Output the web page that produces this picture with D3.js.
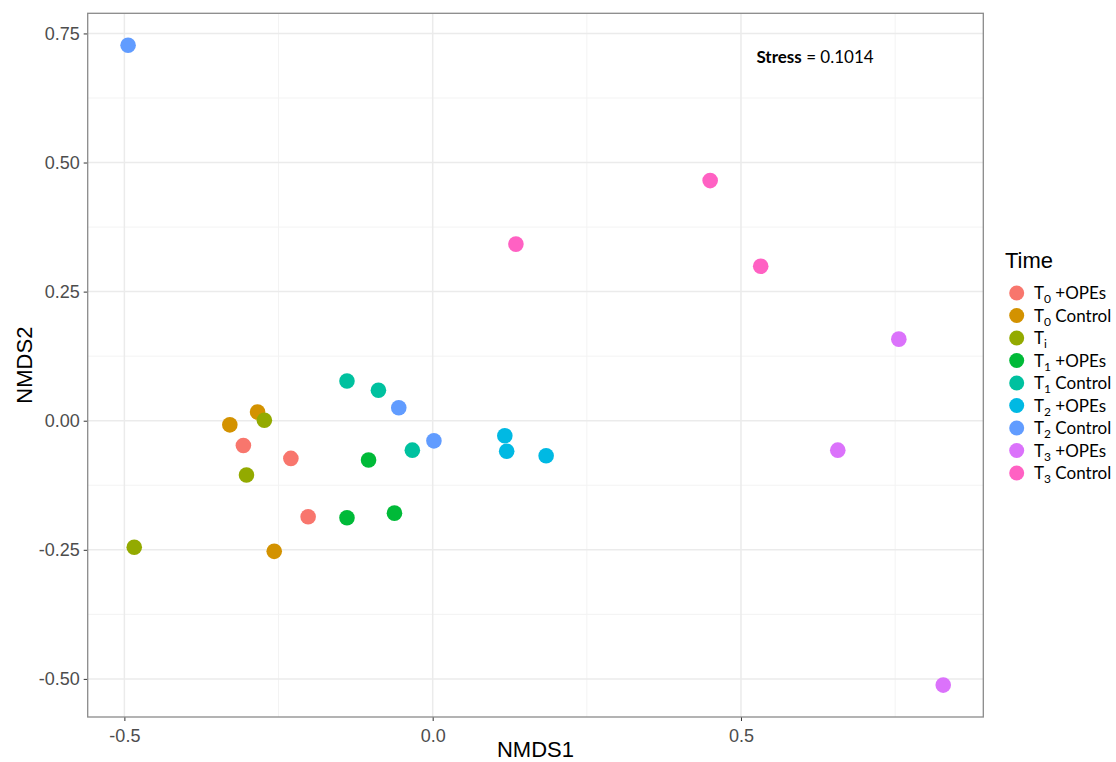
<!DOCTYPE html>
<html>
<head>
<meta charset="utf-8">
<script src="https://cdn.jsdelivr.net/npm/d3@7"></script>
<style>
  body { margin: 0; background: #fff; }
  .tick text { font-family: "Liberation Sans", Arial, sans-serif; }
</style>
</head>
<body>
<div id="chart"></div>
<script>
// groups in legend order
var groups = ["T0 +OPEs", "T0 Control", "Ti", "T1 +OPEs", "T1 Control", "T2 +OPEs", "T2 Control", "T3 +OPEs", "T3 Control"];
var groupSubs = ["0", "0", "i", "1", "1", "2", "2", "3", "3"];
var groupRest = ["+OPEs", "Control", "", "+OPEs", "Control", "+OPEs", "Control", "+OPEs", "Control"];
var groupColors = ["#F8766D", "#D39200", "#93AA00", "#00BA38", "#00C19F", "#00B9E3", "#619CFF", "#DB72FB", "#FF61C3"];

// NMDS coordinates
var pointGroup = ["T0 +OPEs", "T0 +OPEs", "T0 +OPEs",
                  "T0 Control", "T0 Control", "T0 Control",
                  "Ti", "Ti", "Ti",
                  "T1 +OPEs", "T1 +OPEs", "T1 +OPEs",
                  "T1 Control", "T1 Control", "T1 Control",
                  "T2 +OPEs", "T2 +OPEs", "T2 +OPEs",
                  "T2 Control", "T2 Control", "T2 Control",
                  "T3 +OPEs", "T3 +OPEs", "T3 +OPEs",
                  "T3 Control", "T3 Control", "T3 Control"];
var nmds1 = [-0.307, -0.230, -0.202,
             -0.284, -0.329, -0.257,
             -0.273, -0.302, -0.484,
             -0.104, -0.139, -0.062,
             -0.139, -0.088, -0.033,
              0.117,  0.120,  0.184,
             -0.494, -0.055,  0.002,
              0.756,  0.657,  0.828,
              0.135,  0.450,  0.532];
var nmds2 = [-0.048, -0.073, -0.186,
              0.017, -0.008, -0.253,
              0.001, -0.105, -0.245,
             -0.076, -0.188, -0.179,
              0.077,  0.059, -0.057,
             -0.029, -0.059, -0.068,
              0.727,  0.025, -0.039,
              0.158, -0.057, -0.512,
              0.342,  0.465,  0.299];

var xTicks = [-0.5, 0.0, 0.5];
var xMinor = [-0.25, 0.25, 0.75];
var yTicks = [-0.5, -0.25, 0, 0.25, 0.5, 0.75];
var yMinor = [-0.375, -0.125, 0.125, 0.375, 0.625];
var stressValue = "0.1014";

var points = nmds1.map(function(d, i) {
    return {x: d, y: nmds2[i], group: pointGroup[i]};
});

var W = 1116, H = 762;
var margin = {top: 13.3, right: 132.7, bottom: 45, left: 87.7};
var width = W - margin.left - margin.right;
var height = 717 - margin.top;

var svg = d3.select("#chart").append("svg")
    .attr("width", W)
    .attr("height", H);

var g = svg.append("g")
    .attr("transform", "translate(" + margin.left + "," + margin.top + ")");

var x = d3.scaleLinear().domain([-0.5595, 0.893]).range([0, width]);
var y = d3.scaleLinear().domain([-0.5738, 0.789]).range([height, 0]);
var color = d3.scaleOrdinal().domain(groups).range(groupColors);

// hyphen minus like the original, not the unicode minus d3 uses
function fmt(spec) {
    var f = d3.format(spec);
    return function(d) { return f(d).replace("\u2212", "-"); };
}

// grid
g.selectAll(".xminor").data(xMinor).enter().append("line")
    .attr("x1", function(d) { return x(d); }).attr("x2", function(d) { return x(d); })
    .attr("y1", 0).attr("y2", height)
    .attr("stroke", "#F3F3F3").attr("stroke-width", 1);
g.selectAll(".yminor").data(yMinor).enter().append("line")
    .attr("y1", function(d) { return y(d); }).attr("y2", function(d) { return y(d); })
    .attr("x1", 0).attr("x2", width)
    .attr("stroke", "#F3F3F3").attr("stroke-width", 1);
g.selectAll(".xmajor").data(xTicks).enter().append("line")
    .attr("x1", function(d) { return x(d); }).attr("x2", function(d) { return x(d); })
    .attr("y1", 0).attr("y2", height)
    .attr("stroke", "#EBEBEB").attr("stroke-width", 1.5);
g.selectAll(".ymajor").data(yTicks).enter().append("line")
    .attr("y1", function(d) { return y(d); }).attr("y2", function(d) { return y(d); })
    .attr("x1", 0).attr("x2", width)
    .attr("stroke", "#EBEBEB").attr("stroke-width", 1.5);

// axes
var xAxis = d3.axisBottom(x).tickValues(xTicks).tickSize(4).tickPadding(6)
    .tickFormat(fmt(".1f"));
var yAxis = d3.axisLeft(y).tickValues(yTicks).tickSize(4).tickPadding(4)
    .tickFormat(fmt(".2f"));

var gx = g.append("g")
    .attr("class", "x axis")
    .attr("transform", "translate(0," + height + ")")
    .call(xAxis);
var gy = g.append("g")
    .attr("class", "y axis")
    .call(yAxis);
[gx, gy].forEach(function(a) {
    a.select(".domain").remove();
    a.selectAll(".tick line").attr("stroke", "#333");
    a.selectAll(".tick text").style("font-size", "18px").attr("fill", "#4D4D4D");
});
gx.selectAll(".tick text").attr("dy", "0.85em");

// points
g.append("g").attr("class", "points").selectAll("circle")
    .data(points)
    .enter()
    .append("circle")
    .attr("cx", function(d) { return x(d.x); })
    .attr("cy", function(d) { return y(d.y); })
    .attr("r", 7.8)
    .attr("fill", function(d) { return color(d.group); });

// panel border
g.append("rect")
    .attr("width", width).attr("height", height)
    .attr("fill", "none")
    .attr("stroke", "#8A8A8A")
    .attr("stroke-width", 1.3);

// stress annotation
var st = g.append("text")
    .attr("x", x(0.525))
    .attr("y", 49.5)
    .style("font-family", "Lato, 'Open Sans', sans-serif")
    .style("font-size", "17px")
    .attr("fill", "#000");
st.append("tspan").style("font-weight", "bold").text("Stress");
st.append("tspan").text(" = " + stressValue);

// axis titles
svg.append("text")
    .attr("x", margin.left + width / 2)
    .attr("y", 757)
    .attr("text-anchor", "middle")
    .style("font-family", "'Liberation Sans', Arial, sans-serif")
    .style("font-size", "22px")
    .text("NMDS1");
svg.append("text")
    .attr("transform", "translate(32," + (margin.top + height / 2) + ") rotate(-90)")
    .attr("text-anchor", "middle")
    .style("font-family", "'Liberation Sans', Arial, sans-serif")
    .style("font-size", "22px")
    .text("NMDS2");

// legend
var legend = svg.append("g").attr("transform", "translate(1005,0)");
legend.append("text")
    .attr("x", 0).attr("y", 268)
    .style("font-family", "'Liberation Sans', Arial, sans-serif")
    .style("font-size", "22px")
    .text("Time");

var items = legend.selectAll(".item")
    .data(groups)
    .enter().append("g")
    .attr("class", "item")
    .attr("transform", function(d, i) { return "translate(0," + (293 + i * 22.5) + ")"; });
items.append("circle")
    .attr("cx", 11.7).attr("cy", 0).attr("r", 7.5)
    .attr("fill", function(d) { return color(d); });
var lbl = items.append("text")
    .attr("x", 29).attr("y", 6)
    .style("font-family", "Lato, 'Open Sans', sans-serif")
    .style("font-size", "17px")
    .attr("fill", "#000");
lbl.append("tspan").text("T");
lbl.append("tspan").attr("dy", 4).style("font-size", "12px")
    .text(function(d, i) { return groupSubs[i]; });
lbl.append("tspan").attr("dy", -4)
    .text(function(d, i) { return groupRest[i] ? " " + groupRest[i] : ""; });
</script>
</body>
</html>
